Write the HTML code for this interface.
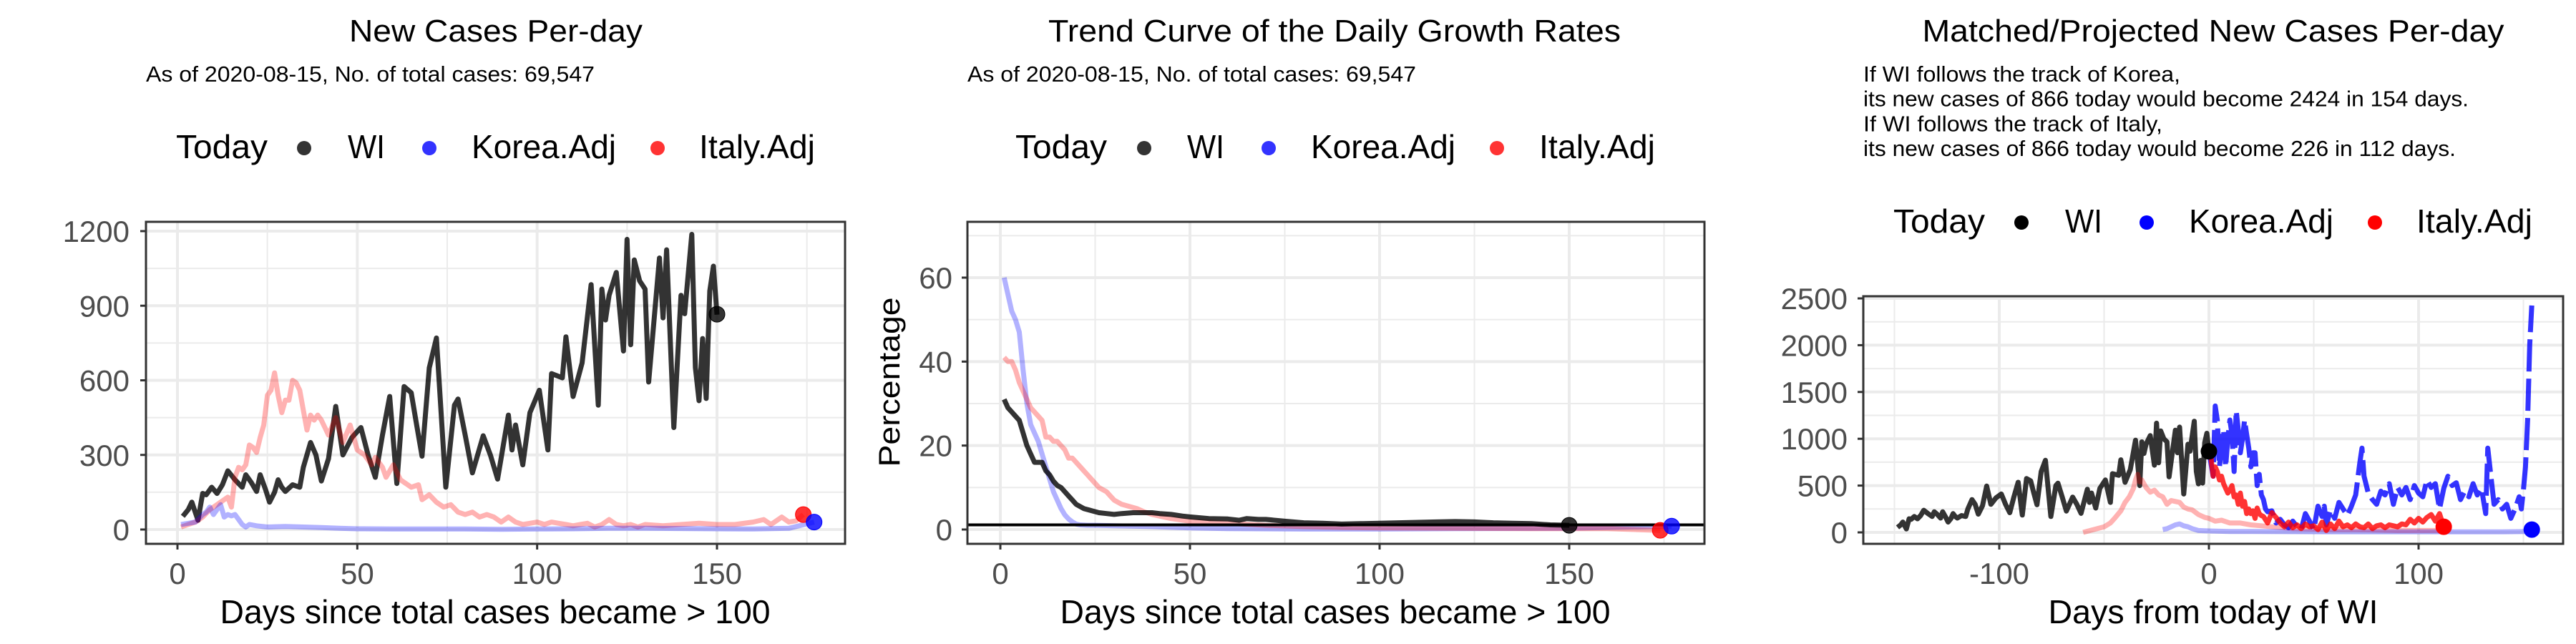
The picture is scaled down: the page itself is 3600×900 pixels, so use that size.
<!DOCTYPE html>
<html><head><meta charset="utf-8">
<style>
html,body{margin:0;padding:0;background:#fff;}
svg{display:block;font-family:"Liberation Sans",Arial,sans-serif;}
</style></head>
<body>
<svg id="chart" width="3600" height="900" viewBox="0 0 3600 900" xmlns="http://www.w3.org/2000/svg"></svg>
<script>
// ---------- Panel 1: new cases per day ----------
const p1WiDays = [1.5,3,4,5.7,7,8,9.5,11,12.5,14,16,18,19,20.5,22,23,24.5,25.6,27,28,29,30,32,34,35,37,38.5,40,42,44,46,48.5,51,53,55,57,59,61,63,65,66.5,68,70,72,74.6,77,78,80,82,85,87,89,92,93,94,96,98,100.6,103,104,107,108,110,112.5,115,117,118,119,120,122,124,125,126,127,128.5,130,131,134,135,136,138,140,141,143,144,145,146,147,148,149,150];
const p1WiVals = [53,80,110,37,145,140,170,145,180,236,200,170,220,190,153,220,160,110,150,200,170,153,180,170,250,350,300,195,285,495,300,370,410,300,210,380,535,185,575,550,420,295,650,770,170,500,525,380,228,377,300,203,460,320,420,260,470,560,320,627,610,775,535,670,985,500,967,843,942,1034,718,1167,743,1084,1000,967,593,1092,851,1125,410,942,868,1187,651,518,768,527,959,1059,864];
const p1ItDays = [1,3,5,7,9,10,12,14,15,16,17,18,19,20,21,22,23,24,25,26,27,28,29,30,31,32,33,34,35,36,37,38,39,40,42,44,46,48,50,52,54,55,57,58,60,62,63,65,67,68,70,72,74,76,78,80,82,84,86,88,90,92,94,96,98,100,102,104,106,108,110,112,114,116,118,120,122,124,126,128,130,135,140,145,150,155,160,163,165,168,170,172,174];
const p1ItVals = [10,20,30,50,80,90,110,130,90,210,250,240,260,340,330,310,370,420,540,560,630,540,470,520,520,600,590,560,480,400,460,440,460,440,380,450,350,420,320,300,260,290,250,210,260,200,190,170,180,120,140,110,90,100,70,60,70,50,60,50,30,50,30,20,25,30,20,30,25,20,15,20,25,10,20,40,20,15,20,10,20,15,20,25,20,20,30,40,20,50,30,35,60];
const p1KoDays = [1,3,5,7,8,9,10,11,12,13,14,15,16,17,18,19,20,22,25,30,35,40,45,50,60,70,80,90,100,110,120,130,140,150,160,170,177];
const p1KoVals = [20,25,30,60,70,90,60,80,100,50,60,55,60,40,20,10,20,15,10,12,10,8,5,3,2,2,2,1,2,3,5,5,4,3,2,5,30];
const p1Ticks = [0,300,600,900,1200];
const p1XTicks = [0,50,100,150];
const p1Today = {wi:[150,866], it:[174,60], ko:[177,30]};

// ---------- Panel 2: growth rates ----------
const p2WiDays = [1,2,3,4,5,6,7,8,9,10,11,12,13,14,15,16,17,18,19,20,22,24,26,28,30,32,35,38,40,42,45,48,50,55,60,63,65,68,70,75,80,85,90,95,100,105,110,115,120,125,130,135,140,145,150];
const p2WiVals = [31,29,28,27,26,23,20,18,16,16,16,14,13,11.5,10.5,10,9,8,7,6,5,4.5,4,3.8,3.6,3.8,4,4,4,3.8,3.6,3.2,3,2.6,2.5,2.2,2.6,2.4,2.4,2,1.6,1.5,1.3,1.4,1.5,1.6,1.7,1.8,1.9,1.8,1.6,1.5,1.4,1.1,1.0];
const p2ItDays = [1,2,3,4,5,6,7,8,9,10,11,12,13,14,15,16,17,18,19,20,21,22,23,24,25,26,27,28,29,30,32,34,36,38,40,45,50,55,60,70,80,90,100,120,140,160,174];
const p2ItVals = [41,40,40,38,35,33,31,29,28,27,26,22,22,21,21,20,19,17,17,16,15,14,13,12,11,10,9.5,9,8,7,6,5.5,5,4.2,3.6,2.6,2,1.8,1.5,1,0.7,0.5,0.4,0.3,0.2,0.2,-0.2];
const p2KoDays = [1,2,3,4,5,6,7,8,9,10,11,12,13,14,15,16,17,18,19,20,21,23,25,30,40,50,60,80,100,120,150,177];
const p2KoVals = [60,56,52,50,47,38,30,25,23,21,18,15,12,9,7,5,3.5,2.5,1.8,1.3,1.1,1,1,0.9,0.7,0.4,0.2,0.1,0.1,0.2,0.3,0.8];
const p2Ticks = [0,20,40,60];
const p2XTicks = [0,50,100,150];
const p2RefLine = 1.1;
const p2Today = {wi:[150,1.0], it:[174,-0.2], ko:[177,0.8]};

// ---------- Panel 3: matched / projected ----------
const p3ItHistDays = [-60,-55,-50,-47,-45,-42,-40,-38,-36,-35,-34,-33,-32,-30,-28,-26,-24,-22,-20,-18,-16,-14,-12,-10,-8,-5,-2,0,3,6,10,15,20,25,30,35,40,50,60,70,80,90,100,110];
const p3ItHistVals = [0,30,60,100,150,230,320,380,470,560,620,540,560,480,430,450,400,380,300,340,330,320,270,250,240,190,160,150,120,130,100,100,80,70,60,50,40,35,30,30,25,20,20,20];
const p3KoHistDays = [-22,-20,-18,-16,-14,-12,-10,-8,-5,0,10,20,40,60,80,100,120,140,154];
const p3KoHistVals = [30,40,60,80,90,70,60,40,20,15,10,10,8,5,5,5,5,5,10];
const p3ItProjDays = [0,1,2,3,4,5,6,7,8,9,10,11,12,13,14,15,16,17,18,19,20,21,22,23,24,25,26,28,30,32,34,36,38,40,42,44,46,48,50,52,54,56,58,60,62,64,66,68,70,72,74,76,78,80,82,84,86,88,90,92,94,96,98,100,102,104,106,108,110,112];
const p3ItProjVals = [866,800,600,700,650,560,600,520,470,420,450,500,380,400,300,420,280,330,200,250,200,230,150,260,200,180,170,100,210,160,100,60,110,50,80,40,90,60,70,30,110,20,90,40,120,60,80,50,90,60,50,90,40,70,80,50,80,70,60,90,80,140,100,150,110,160,190,120,200,60];
const p3KoProjDays = [0,2,3,4,5,6,7,8,9,10,11,12,13,14,15,16,17,18,19,20,21,22,23,24,25,26,27,28,30,32,34,36,38,40,42,44,46,48,50,52,54,55,56,58,60,62,64,66,68,70,72,73,74,76,78,80,82,84,86,88,90,92,94,96,98,100,102,104,106,108,110,112,114,116,118,120,122,124,126,128,130,132,133,134,136,138,140,142,144,146,148,149,150,151,152,153,154];
const p3KoProjVals = [866,600,1350,1200,700,900,1100,700,1000,1200,1050,650,1300,1100,850,1000,1200,1050,900,700,850,850,500,620,400,350,250,220,230,100,140,80,50,120,60,30,200,120,30,280,170,280,80,240,150,320,250,180,280,400,750,900,600,420,350,300,440,400,520,300,480,400,480,350,500,420,380,560,480,520,250,470,600,500,530,350,440,380,520,400,470,200,900,700,300,350,250,300,150,250,380,250,450,700,1200,2000,2424];
const p3Ticks = [0,500,1000,1500,2000,2500];
const p3XTicks = [-100,0,100];
const p3Today = {wi:[0,866], it:[112,60], ko:[154,30]};

const NS = "http://www.w3.org/2000/svg";
const svg = document.getElementById('chart');
function mk(tag, attrs, parent){
  const e = document.createElementNS(NS, tag);
  for (const k in attrs) e.setAttribute(k, attrs[k]);
  (parent||svg).appendChild(e);
  return e;
}
function txt(s, attrs, parent){ const t = mk('text', attrs, parent); t.textContent = s; return t; }
function linScale(d0,d1,r0,r1){ return v => r0 + (v-d0)*(r1-r0)/(d1-d0); }
function pathD(xs, ys, sx, sy){
  let d = '';
  for (let i=0;i<xs.length;i++) d += (i?'L':'M') + sx(xs[i]).toFixed(1) + ',' + sy(ys[i]).toFixed(1);
  return d;
}

function frame(g, box, sx, sy, yTicks, xTicks, yMinor, xMinor, labelRight){
  mk('rect',{x:box.x0,y:box.y0,width:box.x1-box.x0,height:box.y1-box.y0,fill:'#fff'},g);
  yMinor.forEach(v=>mk('line',{x1:box.x0,x2:box.x1,y1:sy(v),y2:sy(v),stroke:'#ebebeb','stroke-width':2},g));
  xMinor.forEach(v=>mk('line',{y1:box.y0,y2:box.y1,x1:sx(v),x2:sx(v),stroke:'#ebebeb','stroke-width':2},g));
  yTicks.forEach(v=>mk('line',{x1:box.x0,x2:box.x1,y1:sy(v),y2:sy(v),stroke:'#ebebeb','stroke-width':4},g));
  xTicks.forEach(v=>mk('line',{y1:box.y0,y2:box.y1,x1:sx(v),x2:sx(v),stroke:'#ebebeb','stroke-width':4},g));
  yTicks.forEach(v=>{
    mk('line',{x1:box.x0-8,x2:box.x0,y1:sy(v),y2:sy(v),stroke:'#333','stroke-width':3},g);
    const t = txt(String(v),{x:labelRight,y:sy(v)+15,'text-anchor':'end','font-size':42,fill:'#4d4d4d'},g);
    
    
  });
  xTicks.forEach(v=>{
    mk('line',{y1:box.y1,y2:box.y1+8,x1:sx(v),x2:sx(v),stroke:'#333','stroke-width':3},g);
    const t = txt(String(v),{x:sx(v),y:box.y1+56,'text-anchor':'middle','font-size':42,fill:'#4d4d4d'},g);
    
    
  });
}
function border(g, box){
  mk('rect',{x:box.x0,y:box.y0,width:box.x1-box.x0,height:box.y1-box.y0,fill:'none',stroke:'#333','stroke-width':3},g);
}
function series(g, name, xs, ys, sx, sy, color, op, w, dash){
  const p = mk('path',{d:pathD(xs,ys,sx,sy),fill:'none',stroke:color,'stroke-opacity':op,'stroke-width':w,'stroke-linejoin':'round','stroke-linecap':'butt'},g);
  if (dash) p.setAttribute('stroke-dasharray',dash);
  
  
}
function dot(g, name, pt, sx, sy, color, op){
  const c = mk('circle',{cx:sx(pt[0]),cy:sy(pt[1]),r:11,fill:color,'fill-opacity':op,stroke:color},g);
  
  
}
function legend(g, y, pos, cols){
  const lt = txt('Today',{x:pos[0],y:y,'font-size':46,fill:'#000',textLength:128,lengthAdjust:'spacingAndGlyphs'},g);
  
  
  const labels = ['WI','Korea.Adj','Italy.Adj'];
  const lens = [52,202,162];
  const names = ['legend-entry-wi','legend-entry-korea','legend-entry-italy'];
  for (let i=0;i<3;i++){
    const gg = mk('g',{},g);
    
    
    mk('circle',{cx:pos[1+i*2],cy:y-14,r:10,fill:cols[i]},gg);
    txt(labels[i],{x:pos[2+i*2],y:y,'font-size':46,fill:'#000',textLength:lens[i],lengthAdjust:'spacingAndGlyphs'},gg);
  }
}

// ===== Panel 1 =====
(function(){
  const g = mk('g',{});  
  const box = {x0:204,x1:1181,y0:310,y1:760};
  const sx = linScale(0,150,248,1002), sy = linScale(0,1200,740,323);
  const t = txt('New Cases Per-day',{x:693,y:58,'text-anchor':'middle','font-size':44,textLength:410,lengthAdjust:'spacingAndGlyphs'},g);
   
  const s = txt('As of 2020-08-15, No. of total cases: 69,547',{x:204,y:114,'font-size':31,textLength:627,lengthAdjust:'spacingAndGlyphs'},g);
   
  legend(g,221,[246,425,486,600,659,919,977],['#333','#3333ff','#ff3333']);
  frame(g,box,sx,sy,p1Ticks,p1XTicks,[150,450,750,1050],[25,75,125,175],181);
  series(g,'line-wi',p1WiDays,p1WiVals,sx,sy,'#000',0.8,7);
  series(g,'line-italy',p1ItDays,p1ItVals,sx,sy,'#ff0000',0.3,7);
  series(g,'line-korea',p1KoDays,p1KoVals,sx,sy,'#0000ff',0.3,7);
  dot(g,'today-wi',p1Today.wi,sx,sy,'#000',0.8);
  dot(g,'today-italy',p1Today.it,sx,sy,'#ff0000',0.8);
  dot(g,'today-korea',p1Today.ko,sx,sy,'#0000ff',0.8);
  border(g,box);
  const xt = txt('Days since total cases became > 100',{x:692,y:871,'text-anchor':'middle','font-size':46,textLength:769,lengthAdjust:'spacingAndGlyphs'},g);
   
})();

// ===== Panel 2 =====
(function(){
  const g = mk('g',{});  
  const box = {x0:1352,x1:2382,y0:310,y1:760};
  const sx = linScale(0,150,1398,2193), sy = linScale(0,60,740,388);
  const t = txt('Trend Curve of the Daily Growth Rates',{x:1865,y:58,'text-anchor':'middle','font-size':44,textLength:800,lengthAdjust:'spacingAndGlyphs'},g);
   
  const s = txt('As of 2020-08-15, No. of total cases: 69,547',{x:1352,y:114,'font-size':31,textLength:627,lengthAdjust:'spacingAndGlyphs'},g);
   
  legend(g,221,[1419,1599,1659,1773,1832,2092,2151],['#333','#3333ff','#ff3333']);
  frame(g,box,sx,sy,p2Ticks,p2XTicks,[10,30,50,70],[25,75,125,175],1331);
  series(g,'line-korea',p2KoDays,p2KoVals,sx,sy,'#0000ff',0.3,7);
  series(g,'line-italy',p2ItDays,p2ItVals,sx,sy,'#ff0000',0.3,7);
  series(g,'line-wi',p2WiDays,p2WiVals,sx,sy,'#000',0.8,7);
  const rl = mk('line',{x1:box.x0,x2:box.x1,y1:sy(p2RefLine),y2:sy(p2RefLine),stroke:'#000','stroke-width':4},g);
   
  dot(g,'today-wi',p2Today.wi,sx,sy,'#000',0.8);
  dot(g,'today-italy',p2Today.it,sx,sy,'#ff0000',0.8);
  dot(g,'today-korea',p2Today.ko,sx,sy,'#0000ff',0.8);
  border(g,box);
  const xt = txt('Days since total cases became > 100',{x:1866,y:871,'text-anchor':'middle','font-size':46,textLength:769,lengthAdjust:'spacingAndGlyphs'},g);
   
  const yt = txt('Percentage',{x:0,y:0,'text-anchor':'middle','font-size':42,transform:'translate(1257,534) rotate(-90)',textLength:237,lengthAdjust:'spacingAndGlyphs'},g);
   
})();

// ===== Panel 3 =====
(function(){
  const g = mk('g',{});  
  const box = {x0:2604,x1:3582,y0:414,y1:760};
  const sx = linScale(-100,100,2794,3380), sy = linScale(0,2500,744,417);
  const t = txt('Matched/Projected New Cases Per-day',{x:3093,y:58,'text-anchor':'middle','font-size':44,textLength:813,lengthAdjust:'spacingAndGlyphs'},g);
   
  const lines = ['If WI follows the track of Korea,','its new cases of 866 today would become 2424 in 154 days.','If WI follows the track of Italy,','its new cases of 866 today would become 226 in 112 days.'];
  const lens = [443,846,418,828];
  lines.forEach((l,i)=>{
    const s = txt(l,{x:2604,y:114+i*34.7,'font-size':31,textLength:lens[i],lengthAdjust:'spacingAndGlyphs'},g);
    
    
  });
  legend(g,325,[2646,2825,2886,3000,3059,3319,3377],['#000','#0000ff','#ff0000']);
  frame(g,box,sx,sy,p3Ticks,p3XTicks,[250,750,1250,1750,2250],[-150,-50,50,150],2582);
  const wiX = p1WiDays.map(d=>d-150);
  series(g,'line-wi',wiX,p1WiVals,sx,sy,'#000',0.8,7);
  series(g,'line-italy-matched',p3ItHistDays,p3ItHistVals,sx,sy,'#ff0000',0.3,7);
  series(g,'line-korea-matched',p3KoHistDays,p3KoHistVals,sx,sy,'#0000ff',0.3,7);
  series(g,'line-korea-projected',p3KoProjDays,p3KoProjVals,sx,sy,'#0000ff',0.8,7,'45 10');
  series(g,'line-italy-projected',p3ItProjDays,p3ItProjVals,sx,sy,'#ff0000',0.8,7);
  dot(g,'today-wi',p3Today.wi,sx,sy,'#000',1);
  dot(g,'today-italy',p3Today.it,sx,sy,'#ff0000',1);
  dot(g,'today-korea',p3Today.ko,sx,sy,'#0000ff',1);
  border(g,box);
  const xt = txt('Days from today of WI',{x:3093,y:871,'text-anchor':'middle','font-size':46,textLength:461,lengthAdjust:'spacingAndGlyphs'},g);
   
})();
</script>
</body></html>
